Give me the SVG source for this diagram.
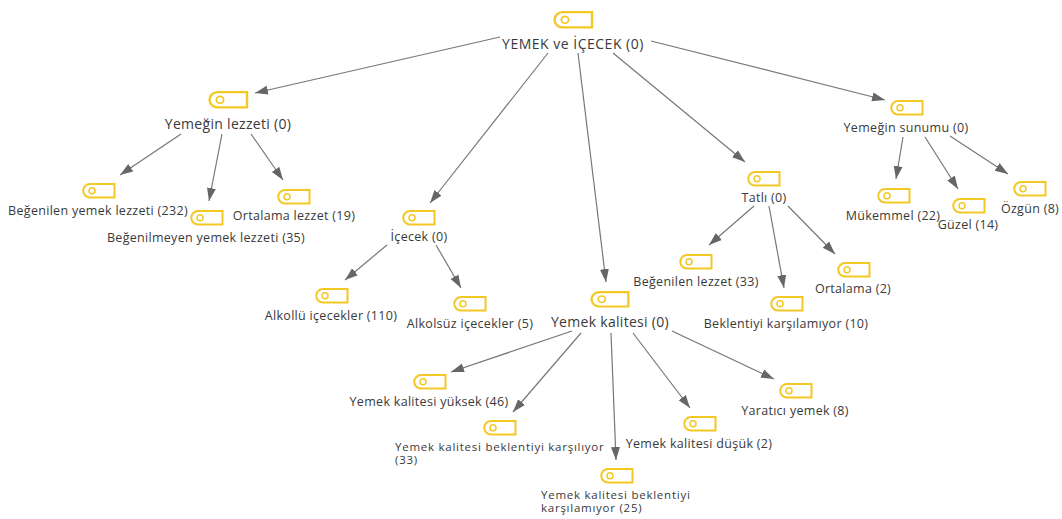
<svg xmlns="http://www.w3.org/2000/svg" width="1062" height="519" viewBox="0 0 1062 519">
<style>
text{font-family:"Open Sans","Noto Sans","Liberation Sans",sans-serif;font-size:12.5px;letter-spacing:.3px;fill:#3a3a3a}
.c{text-anchor:middle}
.big{font-size:14px;letter-spacing:.3px}
.root{font-size:14px;letter-spacing:.5px}
.wrap{font-size:11.5px;letter-spacing:.75px}
#connectors line{stroke:#777;stroke-width:1.2;marker-end:url(#arrow)}
.tag{fill:none;stroke:#f4c824;stroke-width:2}
.eye{fill:none;stroke:#f4c824;stroke-width:1.5}
</style>
<defs>
<marker id="arrow" markerUnits="userSpaceOnUse" markerWidth="14" markerHeight="12" refX="13" refY="5" orient="auto"><path d="M0 0.500L13 5L0 9.500Z" fill="#666"/></marker>
<g id="tag"><path class="tag" d="M8 1H32.500V14.500H8A6.750 6.750 0 0 1 8 1Z"/><circle class="eye" cx="10" cy="7.700" r="3"/></g>
</defs>
<rect width="1062" height="519" fill="#fff"/>
<g id="connectors">
<line x1="500" y1="37" x2="255" y2="93"/>
<line x1="548" y1="53" x2="430" y2="203"/>
<line x1="578" y1="53" x2="606" y2="282"/>
<line x1="613" y1="53" x2="745" y2="162"/>
<line x1="651" y1="41" x2="885" y2="100"/>
<line x1="181" y1="134" x2="120" y2="175"/>
<line x1="222" y1="134" x2="209" y2="201"/>
<line x1="251" y1="134" x2="283" y2="180"/>
<line x1="387" y1="245" x2="345" y2="280"/>
<line x1="436" y1="245" x2="461" y2="288"/>
<line x1="572" y1="331" x2="451" y2="372"/>
<line x1="581" y1="333" x2="513" y2="412"/>
<line x1="611" y1="333" x2="616" y2="460"/>
<line x1="633" y1="333" x2="690" y2="408"/>
<line x1="672" y1="331" x2="774" y2="379"/>
<line x1="754" y1="206" x2="709" y2="245"/>
<line x1="769" y1="206" x2="784" y2="288"/>
<line x1="788" y1="206" x2="835" y2="254"/>
<line x1="903" y1="137" x2="896" y2="179"/>
<line x1="925" y1="137" x2="958" y2="189"/>
<line x1="950" y1="136" x2="1008" y2="174"/>
</g>
<g id="n0"><use href="#tag" transform="translate(553 11) scale(1.2 1.13)"/><text class="c root" x="573" y="49">YEMEK ve İÇECEK (0)</text></g>
<g id="n1"><use href="#tag" transform="translate(208 91) scale(1.2 1.13)"/><text class="c big" x="228" y="129">Yemeğin lezzeti (0)</text></g>
<g id="n2"><use href="#tag" transform="translate(82 183)"/><text class="c" x="98" y="215">Beğenilen yemek lezzeti (232)</text></g>
<g id="n3"><use href="#tag" transform="translate(190 210)"/><text class="c" x="206" y="242">Beğenilmeyen yemek lezzeti (35)</text></g>
<g id="n4"><use href="#tag" transform="translate(277 189)"/><text class="c" x="294" y="220">Ortalama lezzet (19)</text></g>
<g id="n5"><use href="#tag" transform="translate(402 210)"/><text class="c" x="419" y="241">İçecek (0)</text></g>
<g id="n6"><use href="#tag" transform="translate(315 288)"/><text class="c" x="331" y="320">Alkollü içecekler (110)</text></g>
<g id="n7"><use href="#tag" transform="translate(453 296)"/><text class="c" x="470" y="328">Alkolsüz içecekler (5)</text></g>
<g id="n8"><use href="#tag" transform="translate(590 291) scale(1.18 1.07)"/><text class="c big" x="610" y="327">Yemek kalitesi (0)</text></g>
<g id="n9"><use href="#tag" transform="translate(413 374)"/><text class="c" x="429" y="406">Yemek kalitesi yüksek (46)</text></g>
<g id="n10"><use href="#tag" transform="translate(483 420)"/><text class="wrap" x="395" y="451">Yemek kalitesi beklentiyi karşılıyor<tspan x="395" dy="13">(33)</tspan></text></g>
<g id="n11"><use href="#tag" transform="translate(600 468)"/><text class="wrap" x="541" y="499">Yemek kalitesi beklentiyi<tspan x="541" dy="13">karşılamıyor (25)</tspan></text></g>
<g id="n12"><use href="#tag" transform="translate(683 416)"/><text class="c" x="699" y="448">Yemek kalitesi düşük (2)</text></g>
<g id="n13"><use href="#tag" transform="translate(779 383)"/><text class="c" x="795" y="415">Yaratıcı yemek (8)</text></g>
<g id="n14"><use href="#tag" transform="translate(747 171)"/><text class="c" x="764" y="202">Tatlı (0)</text></g>
<g id="n15"><use href="#tag" transform="translate(679 254)"/><text class="c" x="696" y="286">Beğenilen lezzet (33)</text></g>
<g id="n16"><use href="#tag" transform="translate(770 296)"/><text class="c" x="786" y="328">Beklentiyi karşılamıyor (10)</text></g>
<g id="n17"><use href="#tag" transform="translate(837 262)"/><text class="c" x="853" y="293">Ortalama (2)</text></g>
<g id="n18"><use href="#tag" transform="translate(890 100)"/><text class="c" x="906" y="132">Yemeğin sunumu (0)</text></g>
<g id="n19"><use href="#tag" transform="translate(877 188)"/><text class="c" x="893" y="220">Mükemmel (22)</text></g>
<g id="n20"><use href="#tag" transform="translate(952 198)"/><text class="c" x="968" y="229">Güzel (14)</text></g>
<g id="n21"><use href="#tag" transform="translate(1013 181)"/><text class="c" x="1030" y="213">Özgün (8)</text></g>
</svg>
